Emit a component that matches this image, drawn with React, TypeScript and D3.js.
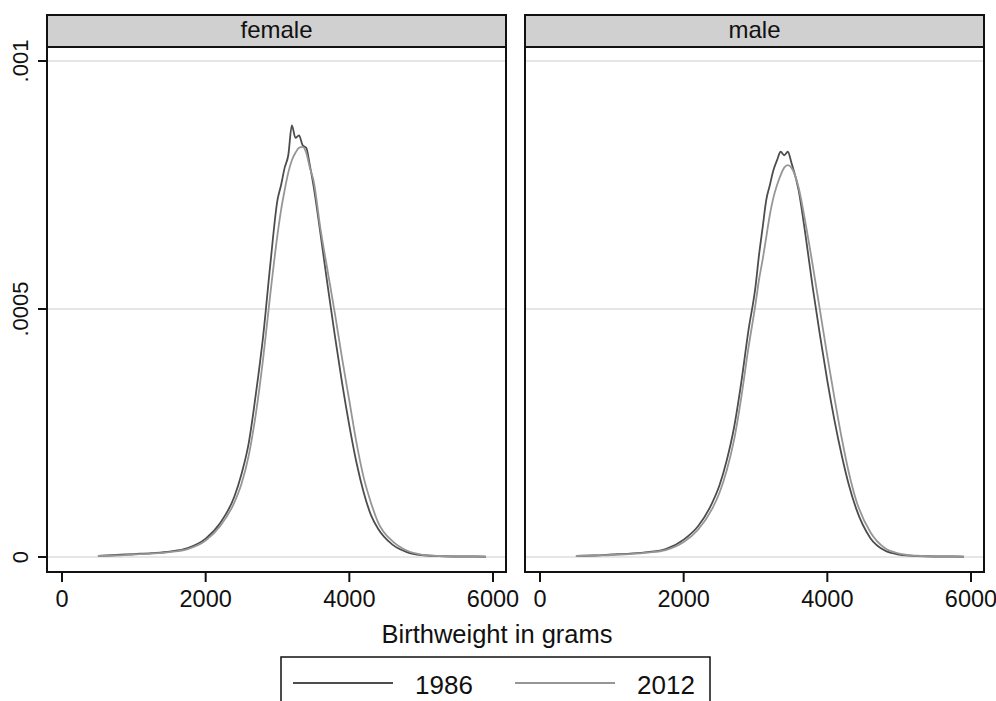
import React, { useEffect, useRef } from "react";
import * as d3 from "d3";

// birthweight grid (grams) shared by all four density curves
const grams = [
  500, 750, 1000, 1250, 1500, 1750, 2000, 2200, 2400, 2500, 2600, 2700, 2800,
  2900, 3000, 3050, 3100, 3150, 3200, 3250, 3300, 3350, 3400, 3450, 3500, 3600,
  3700, 3800, 3900, 4000, 4100, 4200, 4300, 4400, 4600, 4800, 5000, 5250, 5500,
  5750, 5900,
];

// density values in units of 1e-4
const female1986 = [
  0.02, 0.04, 0.06, 0.08, 0.11, 0.18, 0.37, 0.68, 1.22, 1.68, 2.3, 3.3, 4.45,
  5.9, 7.2, 7.5, 7.85, 8.1, 8.7, 8.45, 8.5, 8.3, 8.25, 7.9, 7.5, 6.5, 5.45,
  4.45, 3.5, 2.65, 1.9, 1.3, 0.85, 0.57, 0.25, 0.1, 0.04, 0.02, 0.01, 0.01,
  0.005,
];
const female2012 = [
  0.02, 0.03, 0.05, 0.07, 0.1, 0.16, 0.33, 0.62, 1.1, 1.48, 2.05, 2.9, 4.0,
  5.3, 6.5, 7.0, 7.4, 7.75, 8.0, 8.15, 8.25, 8.27, 8.15, 7.85, 7.6, 6.6, 5.75,
  4.9, 4.0, 3.15, 2.3, 1.6, 1.1, 0.7, 0.32, 0.13, 0.05, 0.02, 0.01, 0.01,
  0.005,
];
const male1986 = [
  0.02, 0.03, 0.05, 0.07, 0.1, 0.16, 0.35, 0.62, 1.1, 1.45, 1.95, 2.6, 3.5,
  4.55, 5.45, 6.1, 6.65, 7.2, 7.5, 7.8, 8.0, 8.17, 8.1, 8.17, 7.95, 7.4, 6.45,
  5.4, 4.45, 3.55, 2.75, 2.05, 1.45, 0.98, 0.38, 0.13, 0.05, 0.02, 0.01, 0.01,
  0.005,
];
const male2012 = [
  0.02, 0.03, 0.04, 0.06, 0.09, 0.14, 0.3, 0.55, 0.98, 1.3, 1.75, 2.35, 3.2,
  4.2, 5.1, 5.6, 6.0, 6.45, 6.9, 7.25, 7.5, 7.7, 7.85, 7.9, 7.85, 7.45, 6.7,
  5.85, 4.95, 4.05, 3.2, 2.4, 1.7, 1.15, 0.5, 0.18, 0.07, 0.025, 0.01, 0.01,
  0.005,
];
const UNIT = 1e-4;

const panels = ["female", "male"];
const years = ["1986", "2012"];
const xTicks = [0, 2000, 4000, 6000];
const yTicks = [0, 0.0005, 0.001];
const yTickLabels = ["0", ".0005", ".001"];

const W = 996;
const H = 701;
const FONT = "'Liberation Sans', Arial, Helvetica, sans-serif";
const lineColors = ["#4d4d4d", "#969696"];

export default function App() {
  const svgRef = useRef<SVGSVGElement>(null);

  useEffect(() => {
    if (!svgRef.current) return;
    const svg = d3.select(svgRef.current);
    svg.selectAll("*").remove();

    const seriesByPanel = [
      [female1986, female2012],
      [male1986, male2012],
    ];
    const boxes = [
      { left: 47, right: 506, xr: [62, 493] },
      { left: 525, right: 984, xr: [540, 971] },
    ];
    const headTop = 15;
    const plotTop = 47;
    const plotBottom = 572;

    const y = d3.scaleLinear().domain([0, 0.001]).range([557, 61]);

    svg
      .append("rect")
      .attr("width", W)
      .attr("height", H)
      .attr("fill", "white");

    panels.forEach((name, pi) => {
      const b = boxes[pi];
      const x = d3.scaleLinear().domain([0, 6000]).range(b.xr);
      const g = svg.append("g");

      // gridlines
      g.selectAll(".grid")
        .data(yTicks)
        .join("line")
        .attr("x1", b.left)
        .attr("x2", b.right)
        .attr("y1", (d) => y(d))
        .attr("y2", (d) => y(d))
        .attr("stroke", "#dedede")
        .attr("stroke-width", 1.5);

      // curves
      const line = d3
        .line<number>()
        .x((_, i) => x(grams[i]))
        .y((d) => y(d * UNIT))
        .curve(d3.curveMonotoneX);

      seriesByPanel[pi].forEach((vals, si) => {
        g.append("path")
          .datum(vals)
          .attr("d", line)
          .attr("fill", "none")
          .attr("stroke", lineColors[si])
          .attr("stroke-width", 1.8)
          .attr("stroke-linejoin", "round");
      });

      // plot border
      g.append("rect")
        .attr("x", b.left)
        .attr("y", plotTop)
        .attr("width", b.right - b.left)
        .attr("height", plotBottom - plotTop)
        .attr("fill", "none")
        .attr("stroke", "#111")
        .attr("stroke-width", 2);

      // header strip
      g.append("rect")
        .attr("x", b.left)
        .attr("y", headTop)
        .attr("width", b.right - b.left)
        .attr("height", plotTop - headTop)
        .attr("fill", "#d0d0d0")
        .attr("stroke", "#111")
        .attr("stroke-width", 2);
      g.append("text")
        .attr("x", (b.left + b.right) / 2)
        .attr("y", 38)
        .attr("text-anchor", "middle")
        .attr("font-family", FONT)
        .attr("font-size", 24)
        .attr("fill", "#111")
        .text(name);

      // x axis ticks
      const xt = g
        .selectAll(".xt")
        .data(xTicks)
        .join("g")
        .attr("transform", (d) => `translate(${x(d)},${plotBottom})`);
      xt.append("line")
        .attr("y1", 0)
        .attr("y2", 10)
        .attr("stroke", "#111")
        .attr("stroke-width", 2);
      xt.append("text")
        .attr("y", 35)
        .attr("text-anchor", "middle")
        .attr("font-family", FONT)
        .attr("font-size", 23.5)
        .attr("fill", "#111")
        .text((d) => String(d));

      // y axis on the first panel only
      if (pi === 0) {
        const yt = g
          .selectAll(".yt")
          .data(yTicks)
          .join("g")
          .attr("transform", (d) => `translate(${b.left},${y(d)})`);
        yt.append("line")
          .attr("x1", -9)
          .attr("x2", 0)
          .attr("stroke", "#111")
          .attr("stroke-width", 2);
        yt.append("text")
          .attr("transform", "translate(-19,0) rotate(-90)")
          .attr("text-anchor", "middle")
          .attr("font-family", FONT)
          .attr("font-size", 22)
          .attr("fill", "#111")
          .text((_, i) => yTickLabels[i]);
      }
    });

    // x axis title
    svg
      .append("text")
      .attr("x", 497)
      .attr("y", 643)
      .attr("text-anchor", "middle")
      .attr("font-family", FONT)
      .attr("font-size", 25.5)
      .attr("fill", "#111")
      .text("Birthweight in grams");

    // legend
    const lg = svg.append("g");
    lg.append("rect")
      .attr("x", 281)
      .attr("y", 657)
      .attr("width", 429)
      .attr("height", 60)
      .attr("fill", "white")
      .attr("stroke", "#111")
      .attr("stroke-width", 1.5);
    years.forEach((yr, i) => {
      const x0 = 293 + i * 222;
      lg.append("line")
        .attr("x1", x0)
        .attr("x2", x0 + 100)
        .attr("y1", 683)
        .attr("y2", 683)
        .attr("stroke", lineColors[i])
        .attr("stroke-width", 2);
      lg.append("text")
        .attr("x", x0 + 122)
        .attr("y", 694)
        .attr("font-family", FONT)
        .attr("font-size", 26)
        .attr("fill", "#111")
        .text(yr);
    });
  }, []);

  return (
    <svg
      ref={svgRef}
      width={W}
      height={H}
      style={{ position: "absolute", left: 0, top: 0, display: "block" }}
    />
  );
}
